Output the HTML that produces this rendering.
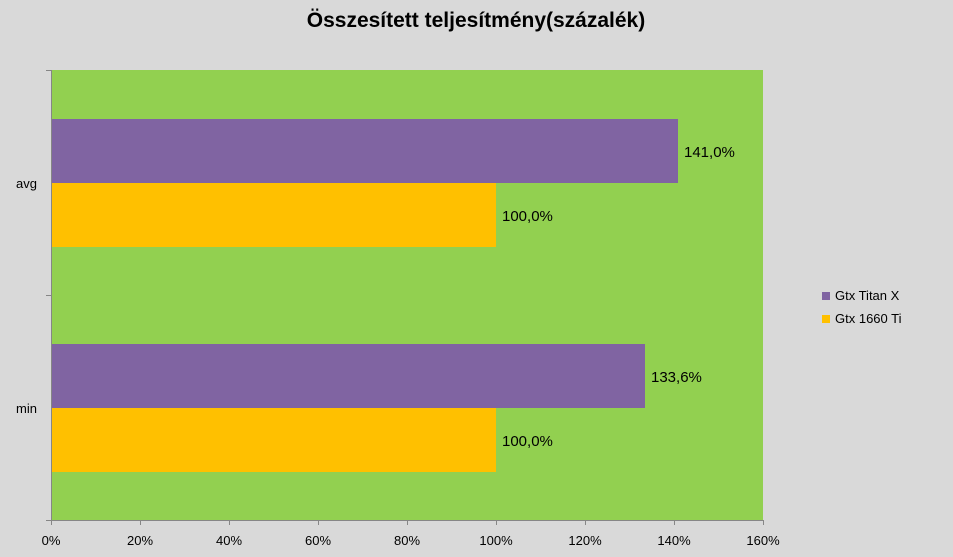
<!DOCTYPE html>
<html><head><meta charset="utf-8"><style>
body{margin:0;width:953px;height:557px;background:#d9d9d9;overflow:hidden}
svg{display:block}
text{font-family:"Liberation Sans",sans-serif;fill:#000}
</style></head><body>
<svg width="953" height="557">
<rect width="953" height="557" fill="#d9d9d9"/>
<text x="476" y="27" text-anchor="middle" font-size="21" font-weight="bold">Összesített teljesítmény(százalék)</text>
<rect x="51" y="70" width="712" height="450" fill="#92d050"/>
<rect x="51" y="119" width="627" height="64" fill="#8064a2"/>
<rect x="51" y="183" width="445" height="64" fill="#ffc000"/>
<rect x="51" y="344" width="594" height="64" fill="#8064a2"/>
<rect x="51" y="408" width="445" height="64" fill="#ffc000"/>
<g stroke="#868686" stroke-width="1">
<line x1="51.5" y1="70" x2="51.5" y2="520"/>
<line x1="46" y1="70.5" x2="51" y2="70.5"/>
<line x1="46" y1="295.5" x2="51" y2="295.5"/>
<line x1="46" y1="520.5" x2="763" y2="520.5"/>
<line x1="140.5" y1="520" x2="140.5" y2="525"/>
<line x1="229.5" y1="520" x2="229.5" y2="525"/>
<line x1="318.5" y1="520" x2="318.5" y2="525"/>
<line x1="407.5" y1="520" x2="407.5" y2="525"/>
<line x1="496.5" y1="520" x2="496.5" y2="525"/>
<line x1="585.5" y1="520" x2="585.5" y2="525"/>
<line x1="674.5" y1="520" x2="674.5" y2="525"/>
<line x1="763.5" y1="520" x2="763.5" y2="525"/>
<line x1="51.5" y1="520" x2="51.5" y2="525"/>
</g>
<g font-size="13" text-anchor="middle">
<text x="51" y="545">0%</text><text x="140" y="545">20%</text><text x="229" y="545">40%</text>
<text x="318" y="545">60%</text><text x="407" y="545">80%</text><text x="496" y="545">100%</text>
<text x="585" y="545">120%</text><text x="674" y="545">140%</text><text x="763" y="545">160%</text>
</g>
<text x="37" y="188" font-size="13" text-anchor="end">avg</text>
<text x="37" y="413" font-size="13" text-anchor="end">min</text>
<g font-size="15">
<text x="684" y="157">141,0%</text>
<text x="502" y="221">100,0%</text>
<text x="651" y="382">133,6%</text>
<text x="502" y="446">100,0%</text>
</g>
<rect x="822" y="292" width="8" height="8" fill="#8064a2"/>
<rect x="822" y="315" width="8" height="8" fill="#ffc000"/>
<text x="835" y="300" font-size="13">Gtx Titan X</text>
<text x="835" y="323" font-size="13">Gtx 1660 Ti</text>
</svg>
</body></html>
